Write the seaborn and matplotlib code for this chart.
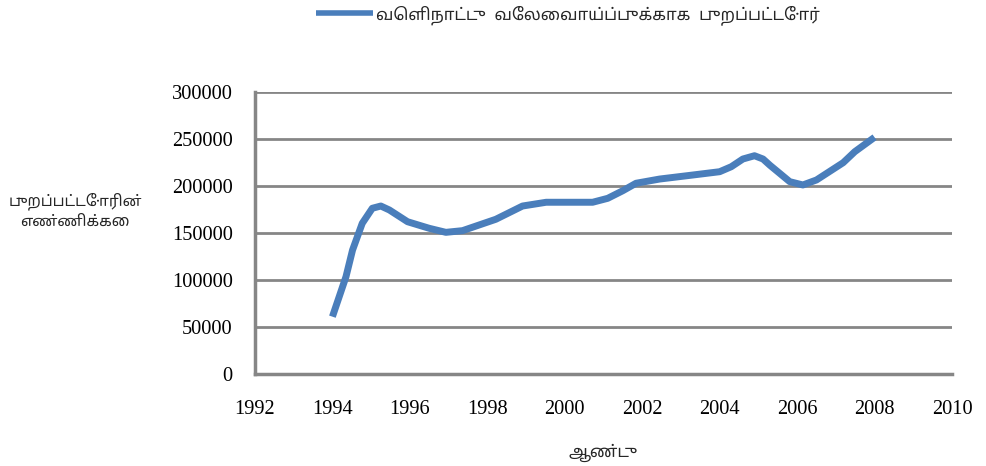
import matplotlib
matplotlib.use("Agg")
import matplotlib.pyplot as plt
import seaborn as sns
import pandas as pd

# Values
years = [1994.0, 1994.35, 1994.52, 1994.77, 1995.03, 1995.25, 1995.47, 1995.94,
         1996.5, 1996.93, 1997.36, 1998.22, 1998.91, 1999.52, 2000.72, 2001.11,
         2001.5, 2001.84, 2002.45, 2003.31, 2004.0, 2004.3, 2004.6, 2004.9,
         2005.12, 2005.3, 2005.55, 2005.81, 2006.15, 2006.5, 2007.19, 2007.49,
         2008.0]
emigrants = [61000, 103500, 131900, 160300, 176300, 178700, 174500, 162000,
             155000, 150700, 152500, 164600, 178700, 182700, 182700, 186900,
             195000, 202900, 207400, 211700, 215200, 220500, 228700, 232200,
             228700, 222000, 213500, 204600, 201100, 206400, 224800, 236500,
             251800]
x_ticks = list(range(1992, 2011, 2))
y_ticks = list(range(0, 300001, 50000))

series_label = "வெளிநாட்டு  வேலைவாய்ப்புக்காக  புறப்பட்டோர்"
x_label = "ஆண்டு"
y_label = "புறப்பட்டோரின்\nஎண்ணிக்கை"

sns.set_style("white")
tamil_fonts = ["Noto Sans Tamil", "Lohit Tamil", "DejaVu Sans"]
plt.rcParams["font.family"] = ["Liberation Serif", "Noto Sans Tamil", "DejaVu Sans"]

df = pd.DataFrame({"year": years, "count": emigrants})

fig = plt.figure(figsize=(9.86, 4.66), dpi=100)
ax = fig.add_axes([0.2586, 0.1974, 0.7069, 0.6052])

grid_col = "#868686"
sns.lineplot(data=df, x="year", y="count", ax=ax, color="#4A7EBB", linewidth=5,
             solid_capstyle="butt", solid_joinstyle="round",
             label=series_label, legend=False)

ax.set_xlim(1992, 2010)
ax.set_ylim(0, 300000)
ax.set_xticks(x_ticks)
ax.set_yticks(y_ticks)
ax.yaxis.grid(True, color=grid_col, linewidth=2)
ax.set_axisbelow(True)
for s in ["top", "right"]:
    ax.spines[s].set_visible(False)
for s in ["left", "bottom"]:
    ax.spines[s].set_color(grid_col)
    ax.spines[s].set_linewidth(2.5)
ax.tick_params(axis="both", direction="out", color=grid_col, width=2.5,
               labelsize=14.7, labelcolor="black")
ax.tick_params(axis="x", length=5, pad=14)
ax.tick_params(axis="y", length=8, pad=8)

ax.set_xlabel(x_label, fontsize=12, family=tamil_fonts, va="center")
ax.xaxis.set_label_coords(0.499, -0.28)
ax.set_ylabel(y_label, fontsize=11, rotation=0, ha="center", va="center",
              family=tamil_fonts, linespacing=1.5)
ax.yaxis.set_label_coords(-0.258, 0.578)

leg = fig.legend(loc="center", bbox_to_anchor=(0.576, 0.968), frameon=False,
                 handlelength=3.4, handletextpad=0.2,
                 prop={"family": tamil_fonts, "size": 12})
for h in leg.legend_handles:
    h.set_linewidth(4)

fig.savefig("out.png", dpi=100)
